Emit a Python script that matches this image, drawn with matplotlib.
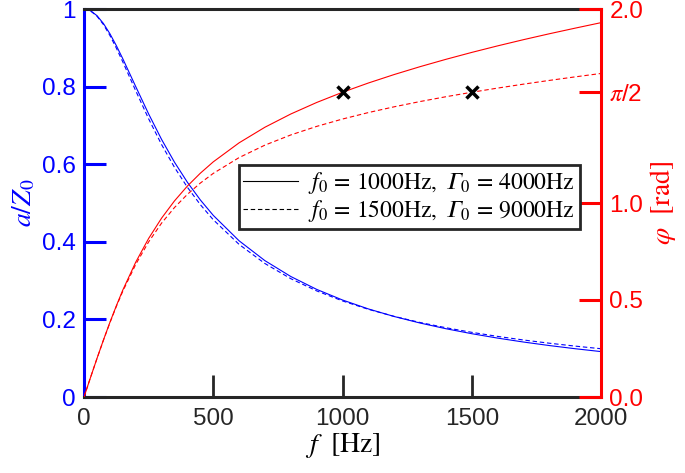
import matplotlib
matplotlib.use("Agg")
import matplotlib.pyplot as plt
from matplotlib.lines import Line2D
import numpy as np

plt.rcParams['font.family'] = ['Liberation Sans', 'DejaVu Sans']
plt.rcParams['mathtext.fontset'] = 'stix'

# frequency grid (Hz)
freq = [0, 25, 50, 75, 100, 125, 150, 200, 250, 300, 350, 400, 450, 500,
        600, 700, 800, 900, 1000, 1100, 1200, 1300, 1400, 1500, 1600,
        1700, 1800, 1900, 2000]

# amplitude a/Z0, f0=1000Hz, Gamma0=4000Hz
amp1 = [1.0, 0.99565, 0.98294, 0.96280, 0.93654, 0.90573, 0.87187, 0.80023,
        0.72954, 0.66400, 0.60523, 0.55337, 0.50793, 0.46816, 0.40260,
        0.35136, 0.31054, 0.27739, 0.25000, 0.22702, 0.20746, 0.19064,
        0.17600, 0.16316, 0.15181, 0.14169, 0.13262, 0.12444, 0.11704]
# amplitude a/Z0, f0=1500Hz, Gamma0=9000Hz
amp2 = [1.0, 0.99531, 0.98163, 0.96003, 0.93205, 0.89942, 0.86384, 0.78940,
        0.71700, 0.65072, 0.59193, 0.54051, 0.49580, 0.45691, 0.39327,
        0.34397, 0.30497, 0.27349, 0.24762, 0.22603, 0.20775, 0.19209,
        0.17853, 0.16667, 0.15621, 0.14693, 0.13863, 0.13116, 0.12441]
# phase (rad)
phase1 = [0.0, 0.09973, 0.19786, 0.29300, 0.38399, 0.46964, 0.55097, 0.69474,
          0.81726, 0.92170, 1.01077, 1.08734, 1.15351, 1.21203, 1.31019,
          1.39065, 1.45877, 1.51807, 1.57080, 1.61849, 1.66221, 1.70272,
          1.74058, 1.77622, 1.80990, 1.84189, 1.87230, 1.90132, 1.92957]
phase2 = [0.0, 0.09970, 0.19762, 0.29213, 0.38194, 0.46676, 0.54495, 0.68350,
          0.79948, 0.89606, 0.97665, 1.04473, 1.10268, 1.15257, 1.23412,
          1.29837, 1.35080, 1.39486, 1.43279, 1.46613, 1.49594, 1.52297,
          1.54779, 1.57080, 1.59232, 1.61261, 1.63184, 1.65017, 1.66772]

marker_f = [1000, 1500]
marker_phi = [np.pi / 2, np.pi / 2]

legend_labels = ['$f_0\\,=\\,1000\\mathrm{Hz},\\ \U0001D6E4_0\\,=\\,4000\\mathrm{Hz}$',
                 '$f_0\\,=\\,1500\\mathrm{Hz},\\ \U0001D6E4_0\\,=\\,9000\\mathrm{Hz}$']

xticks = [0, 500, 1000, 1500, 2000]
yticks_left = [0, 0.2, 0.4, 0.6, 0.8, 1]
yticklabels_left = ['0', '0.2', '0.4', '0.6', '0.8', '1']
yticks_right = [0, 0.5, 1.0, np.pi / 2, 2.0]
yticklabels_right = ['0.0', '0.5', '1.0', r'$\pi$/2', '2.0']

BLUE = (0, 0, 1)
RED = (1, 0, 0)
dash = (0, (4, 2.5))

fig = plt.figure(figsize=(6.85, 4.73), dpi=100)
ax = fig.add_axes([84 / 685, 1 - 397 / 473, 517 / 685, 388 / 473])
ax2 = ax.twinx()

ax.plot(freq, amp1, color=BLUE, lw=0.8)
ax.plot(freq, amp2, color=BLUE, lw=0.8, ls=dash)
ax2.plot(freq, phase1, color=RED, lw=0.8)
ax2.plot(freq, phase2, color=RED, lw=0.8, ls=dash)
ax2.plot(marker_f, marker_phi, ls='none', marker='x', color='black',
         markersize=9, markeredgewidth=2.5, zorder=5)

ax.set_xlim(0, 2000)
ax.set_ylim(0, 1)
ax2.set_ylim(0, 2)

tick_fs = 17.5
ax.set_xticks(xticks)
ax.set_xticklabels([str(v) for v in xticks], fontsize=tick_fs, color='#262626')
ax.set_yticks(yticks_left)
ax.set_yticklabels(yticklabels_left, fontsize=tick_fs, color=BLUE)
ax2.set_yticks(yticks_right)
ax2.set_yticklabels(yticklabels_right, fontsize=tick_fs, color=RED)

ax.tick_params(axis='x', direction='in', length=16, width=2, color='#262626',
               pad=8, top=False)
ax.tick_params(axis='y', direction='in', length=16, width=2.2, color=BLUE, pad=6)
ax2.tick_params(axis='y', direction='in', length=16, width=2.2, color=RED, pad=6)

for s in ['top', 'bottom']:
    ax.spines[s].set_color('#262626')
    ax.spines[s].set_linewidth(2.2)
    ax2.spines[s].set_visible(False)
ax.spines['left'].set_color(BLUE)
ax.spines['left'].set_linewidth(2.2)
ax.spines['right'].set_visible(False)
ax2.spines['left'].set_visible(False)
ax2.spines['right'].set_color(RED)
ax2.spines['right'].set_linewidth(2.2)

ax.set_xlabel(r'$f\ \ [\mathrm{Hz}]$', fontsize=20, labelpad=1)
ax.set_ylabel(r'$a/Z_0$', fontsize=20, color=BLUE, labelpad=3)
ax2.set_ylabel(r'$\varphi\ \ [\mathrm{rad}]$', fontsize=20, color=RED, labelpad=3)

handles = [Line2D([], [], color='black', lw=0.8),
           Line2D([], [], color='black', lw=0.8, ls=dash)]
leg = ax2.legend(handles, legend_labels, loc='lower right',
                 bbox_to_anchor=(0.959, 0.433), fontsize=17,
                 fancybox=False, framealpha=1, edgecolor='#262626',
                 handlelength=2.3, handletextpad=0.45, borderpad=0.2,
                 labelspacing=0.1, borderaxespad=0)
leg.get_frame().set_linewidth(2)

fig.savefig('out.png', dpi=100)
